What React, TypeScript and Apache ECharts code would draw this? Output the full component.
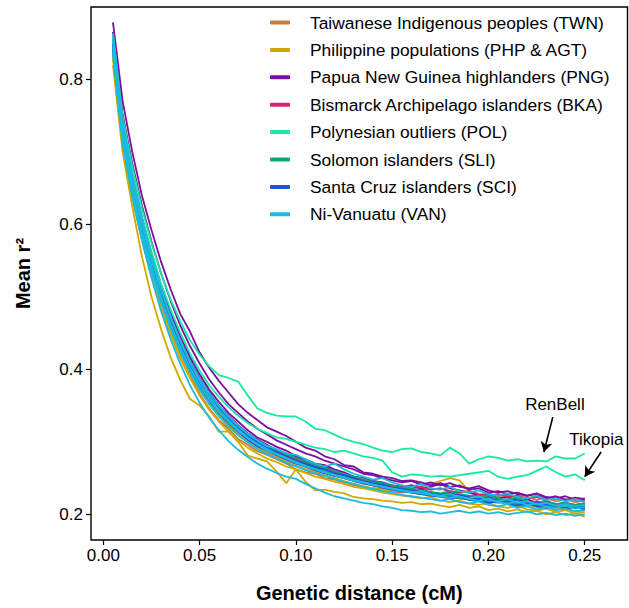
import React, { useEffect, useRef } from "react";
import * as echarts from "echarts";

const distances = [
  0.005, 0.01, 0.015, 0.02, 0.025, 0.03, 0.035, 0.04, 0.045, 0.05,
  0.055, 0.06, 0.065, 0.07, 0.075, 0.08, 0.085, 0.09, 0.095, 0.1,
  0.105, 0.11, 0.115, 0.12, 0.125, 0.13, 0.135, 0.14, 0.145, 0.15,
  0.155, 0.16, 0.165, 0.17, 0.175, 0.18, 0.185, 0.19, 0.195, 0.2,
  0.205, 0.21, 0.215, 0.22, 0.225, 0.23, 0.235, 0.24, 0.245, 0.25,
];
const xTicks = [0, 0.05, 0.1, 0.15, 0.2, 0.25];
const yTicks = [0.2, 0.4, 0.6, 0.8];

const TWN_1 = [0.838,0.716,0.642,0.584,0.534,0.490,0.452,0.420,0.392,0.366,
0.346,0.330,0.318,0.304,0.296,0.287,0.282,0.276,0.270,0.262,
0.258,0.256,0.250,0.248,0.244,0.240,0.238,0.236,0.235,0.232,
0.230,0.232,0.228,0.230,0.226,0.224,0.226,0.222,0.220,0.223,
0.218,0.220,0.216,0.218,0.214,0.216,0.212,0.215,0.211,0.213];
const TWN_2 = [0.845,0.724,0.654,0.596,0.546,0.503,0.466,0.434,0.405,0.382,
0.362,0.345,0.330,0.318,0.306,0.298,0.290,0.284,0.279,0.274,
0.268,0.264,0.262,0.256,0.254,0.250,0.246,0.244,0.242,0.240,
0.238,0.240,0.236,0.234,0.236,0.232,0.230,0.232,0.227,0.229,
0.225,0.227,0.222,0.224,0.220,0.223,0.218,0.221,0.217,0.219];
const TWN_3 = [0.840,0.718,0.646,0.588,0.540,0.496,0.460,0.428,0.400,0.376,
0.356,0.338,0.324,0.312,0.302,0.293,0.286,0.280,0.274,0.270,
0.265,0.260,0.257,0.253,0.250,0.246,0.242,0.240,0.237,0.234,
0.232,0.230,0.228,0.226,0.228,0.224,0.222,0.220,0.222,0.218,
0.216,0.218,0.214,0.212,0.215,0.211,0.213,0.209,0.211,0.208];

const PHP_1 = [0.819,0.700,0.625,0.556,0.500,0.455,0.416,0.385,0.359,0.350,
0.335,0.314,0.314,0.300,0.281,0.277,0.273,0.259,0.243,0.262,
0.245,0.233,0.234,0.231,0.229,0.224,0.222,0.221,0.219,0.218,
0.216,0.217,0.214,0.215,0.212,0.210,0.213,0.209,0.211,0.206,
0.208,0.204,0.207,0.203,0.205,0.200,0.203,0.199,0.201,0.197];
const PHP_2 = [0.832,0.712,0.640,0.580,0.530,0.488,0.450,0.420,0.394,0.371,
0.352,0.336,0.322,0.310,0.300,0.291,0.284,0.278,0.272,0.267,
0.262,0.258,0.254,0.250,0.246,0.242,0.239,0.236,0.234,0.231,
0.236,0.240,0.238,0.242,0.246,0.250,0.247,0.232,0.226,0.224,
0.220,0.216,0.218,0.213,0.210,0.212,0.207,0.209,0.204,0.206];
const PHP_3 = [0.828,0.708,0.636,0.578,0.528,0.484,0.447,0.414,0.388,0.364,
0.344,0.328,0.314,0.302,0.292,0.284,0.277,0.272,0.266,0.262,
0.257,0.252,0.249,0.245,0.242,0.238,0.236,0.233,0.230,0.228,
0.226,0.224,0.222,0.224,0.219,0.217,0.219,0.215,0.213,0.216,
0.211,0.209,0.212,0.207,0.205,0.208,0.203,0.206,0.201,0.203];

const PNG_1 = [0.878,0.770,0.700,0.640,0.592,0.548,0.510,0.476,0.452,0.423,
0.402,0.384,0.368,0.352,0.340,0.330,0.320,0.314,0.308,0.300,
0.292,0.288,0.280,0.276,0.268,0.266,0.258,0.256,0.252,0.250,
0.246,0.247,0.244,0.240,0.243,0.238,0.240,0.234,0.236,0.230,
0.232,0.228,0.230,0.226,0.228,0.222,0.225,0.220,0.223,0.221];
const PNG_2 = [0.865,0.752,0.684,0.626,0.576,0.532,0.494,0.460,0.432,0.408,
0.386,0.368,0.352,0.340,0.328,0.318,0.310,0.302,0.296,0.290,
0.284,0.280,0.274,0.270,0.266,0.262,0.256,0.254,0.250,0.247,
0.244,0.246,0.241,0.244,0.240,0.243,0.238,0.236,0.239,0.233,
0.230,0.232,0.228,0.226,0.229,0.224,0.222,0.225,0.220,0.222];
const PNG_3 = [0.856,0.738,0.668,0.610,0.560,0.516,0.478,0.446,0.417,0.393,
0.372,0.355,0.340,0.328,0.316,0.306,0.300,0.293,0.288,0.280,
0.276,0.270,0.268,0.262,0.258,0.252,0.250,0.246,0.244,0.240,
0.238,0.240,0.236,0.238,0.242,0.236,0.233,0.230,0.226,0.228,
0.222,0.224,0.219,0.221,0.216,0.218,0.214,0.216,0.213,0.215];
const PNG_4 = [0.850,0.730,0.660,0.602,0.553,0.510,0.472,0.440,0.412,0.388,
0.368,0.350,0.336,0.323,0.312,0.303,0.296,0.288,0.284,0.279,
0.273,0.268,0.266,0.260,0.256,0.252,0.248,0.246,0.242,0.238,
0.236,0.233,0.235,0.230,0.228,0.230,0.226,0.224,0.226,0.220,
0.218,0.220,0.215,0.217,0.213,0.215,0.211,0.209,0.212,0.208];

const BKA_1 = [0.850,0.728,0.657,0.600,0.550,0.507,0.470,0.438,0.410,0.386,
0.366,0.348,0.333,0.321,0.310,0.300,0.293,0.287,0.281,0.276,
0.271,0.266,0.262,0.258,0.254,0.250,0.247,0.244,0.241,0.238,
0.240,0.236,0.238,0.234,0.236,0.232,0.230,0.232,0.228,0.226,
0.228,0.224,0.226,0.222,0.224,0.220,0.222,0.219,0.221,0.218];
const BKA_2 = [0.842,0.720,0.648,0.592,0.543,0.500,0.463,0.431,0.403,0.379,
0.359,0.342,0.328,0.316,0.305,0.296,0.289,0.283,0.278,0.272,
0.268,0.263,0.259,0.255,0.251,0.247,0.244,0.241,0.238,0.235,
0.233,0.231,0.233,0.229,0.227,0.229,0.225,0.223,0.225,0.221,
0.219,0.221,0.217,0.215,0.218,0.214,0.212,0.215,0.211,0.213];

const POL_RenBell = [0.862,0.748,0.680,0.622,0.574,0.532,0.496,0.466,0.440,0.420,
0.404,0.392,0.388,0.383,0.364,0.346,0.340,0.336,0.335,0.335,
0.328,0.318,0.316,0.310,0.304,0.300,0.297,0.292,0.288,0.286,
0.290,0.291,0.286,0.284,0.281,0.292,0.284,0.270,0.276,0.280,
0.278,0.274,0.276,0.273,0.274,0.273,0.280,0.277,0.277,0.284];
const POL_Tikopia = [0.858,0.738,0.668,0.610,0.562,0.518,0.482,0.450,0.422,0.398,
0.378,0.362,0.348,0.336,0.326,0.318,0.312,0.306,0.304,0.300,
0.296,0.292,0.290,0.286,0.288,0.284,0.280,0.278,0.274,0.258,
0.252,0.255,0.254,0.252,0.253,0.252,0.254,0.256,0.258,0.260,
0.252,0.249,0.252,0.254,0.260,0.266,0.258,0.252,0.255,0.247];

const SLI_1 = [0.848,0.726,0.655,0.598,0.549,0.506,0.469,0.437,0.409,0.385,
0.365,0.348,0.334,0.322,0.311,0.302,0.295,0.289,0.283,0.278,
0.273,0.268,0.264,0.260,0.256,0.252,0.249,0.245,0.243,0.240,
0.237,0.235,0.233,0.231,0.229,0.232,0.228,0.226,0.224,0.227,
0.222,0.220,0.223,0.218,0.216,0.219,0.214,0.216,0.213,0.215];
const SLI_2 = [0.843,0.720,0.650,0.593,0.544,0.501,0.464,0.432,0.404,0.380,
0.360,0.343,0.329,0.317,0.306,0.297,0.290,0.284,0.279,0.274,
0.269,0.264,0.260,0.256,0.252,0.248,0.245,0.242,0.239,0.236,
0.234,0.232,0.230,0.228,0.226,0.224,0.222,0.221,0.219,0.218,
0.221,0.216,0.214,0.217,0.212,0.214,0.210,0.212,0.209,0.211];

const SCI_1 = [0.846,0.723,0.652,0.595,0.546,0.503,0.466,0.434,0.406,0.382,
0.362,0.345,0.331,0.319,0.308,0.299,0.292,0.286,0.280,0.274,
0.270,0.265,0.262,0.257,0.254,0.250,0.246,0.243,0.241,0.237,
0.235,0.233,0.231,0.229,0.227,0.225,0.227,0.223,0.221,0.224,
0.219,0.217,0.220,0.215,0.217,0.213,0.211,0.214,0.210,0.212];
const SCI_2 = [0.840,0.716,0.645,0.588,0.539,0.497,0.460,0.428,0.400,0.377,
0.357,0.340,0.326,0.314,0.303,0.294,0.288,0.282,0.276,0.270,
0.266,0.261,0.257,0.253,0.250,0.246,0.243,0.240,0.237,0.234,
0.232,0.230,0.228,0.226,0.224,0.222,0.224,0.220,0.218,0.216,
0.218,0.214,0.212,0.215,0.211,0.209,0.212,0.208,0.210,0.207];

const VAN_1 = [0.863,0.742,0.668,0.608,0.556,0.511,0.472,0.438,0.409,0.384,
0.362,0.344,0.330,0.317,0.306,0.297,0.290,0.283,0.278,0.272,
0.267,0.262,0.258,0.254,0.250,0.247,0.244,0.241,0.238,0.235,
0.233,0.230,0.232,0.228,0.226,0.228,0.224,0.222,0.225,0.220,
0.218,0.221,0.216,0.218,0.214,0.216,0.212,0.214,0.211,0.213];
const VAN_2 = [0.835,0.712,0.638,0.578,0.526,0.480,0.441,0.407,0.378,0.354,
0.333,0.316,0.301,0.289,0.279,0.270,0.263,0.257,0.252,0.249,
0.242,0.236,0.230,0.225,0.222,0.219,0.216,0.214,0.211,0.209,
0.206,0.205,0.203,0.204,0.201,0.203,0.205,0.202,0.204,0.201,
0.203,0.200,0.202,0.204,0.200,0.202,0.199,0.201,0.198,0.200];
const VAN_3 = [0.852,0.730,0.658,0.600,0.551,0.508,0.471,0.439,0.411,0.387,
0.367,0.350,0.335,0.322,0.311,0.302,0.294,0.290,0.284,0.282,
0.276,0.270,0.266,0.270,0.262,0.256,0.252,0.248,0.250,0.244,
0.240,0.238,0.242,0.236,0.234,0.238,0.232,0.230,0.233,0.228,
0.226,0.229,0.224,0.222,0.226,0.220,0.222,0.218,0.221,0.217];
const VAN_4 = [0.844,0.721,0.649,0.591,0.542,0.499,0.462,0.430,0.402,0.378,
0.358,0.341,0.327,0.315,0.305,0.296,0.288,0.283,0.277,0.271,
0.266,0.262,0.258,0.254,0.251,0.247,0.244,0.241,0.238,0.236,
0.233,0.231,0.229,0.227,0.225,0.223,0.225,0.221,0.219,0.222,
0.217,0.215,0.218,0.213,0.215,0.211,0.209,0.212,0.208,0.210];
const VAN_5 = [0.838,0.714,0.643,0.585,0.536,0.493,0.456,0.424,0.396,0.372,
0.352,0.335,0.321,0.309,0.299,0.290,0.283,0.277,0.271,0.266,
0.261,0.257,0.253,0.249,0.245,0.242,0.238,0.235,0.232,0.230,
0.227,0.225,0.223,0.221,0.219,0.221,0.217,0.215,0.218,0.213,
0.211,0.214,0.209,0.211,0.207,0.210,0.206,0.208,0.204,0.206];

const populations = [
  { name: "Taiwanese Indigenous peoples (TWN)", color: "#CB7A3E", lines: [TWN_1, TWN_2, TWN_3] },
  { name: "Philippine populations (PHP & AGT)", color: "#D1A800", lines: [PHP_1, PHP_2, PHP_3] },
  { name: "Papua New Guinea highlanders (PNG)", color: "#7B10A0", lines: [PNG_1, PNG_2, PNG_3, PNG_4] },
  { name: "Bismarck Archipelago islanders (BKA)", color: "#E0206E", lines: [BKA_1, BKA_2] },
  { name: "Polynesian outliers (POL)", color: "#17E8A6", lines: [POL_RenBell, POL_Tikopia] },
  { name: "Solomon islanders (SLI)", color: "#10A577", lines: [SLI_1, SLI_2] },
  { name: "Santa Cruz islanders (SCI)", color: "#1B55DF", lines: [SCI_1, SCI_2] },
  { name: "Ni-Vanuatu (VAN)", color: "#1ABBDF", lines: [VAN_1, VAN_2, VAN_3, VAN_4, VAN_5] },
];

// annotation anchors in data coordinates
const annotations = [
  { label: "RenBell", text: [0.2345, 0.351], from: [0.2334, 0.334], to: [0.2288, 0.286] },
  { label: "Tikopia", text: [0.256, 0.303], from: [0.2585, 0.286], to: [0.2500, 0.252] },
];

const FONT = "'Liberation Sans', Arial, Helvetica, sans-serif";

export default function App() {
  const ref = useRef<HTMLDivElement>(null);
  useEffect(() => {
    const chart = echarts.init(ref.current!, null, { renderer: "svg" });
    const series: any[] = [];
    populations.forEach((p) => {
      p.lines.forEach((vals) => {
        series.push({
          type: "line",
          name: p.name,
          data: vals.map((v, j) => [distances[j], v]),
          showSymbol: false,
          symbol: "none",
          color: p.color,
          lineStyle: { color: p.color, width: 1.8 },
          itemStyle: { color: p.color },
          silent: true,
        });
      });
    });
    series.push({
      type: "line",
      name: "__annotations",
      data: [],
      silent: true,
      markLine: {
        silent: true,
        symbol: ["none", "arrow"],
        symbolSize: [9, 10],
        lineStyle: { color: "#000", width: 1.6, type: "solid" },
        label: { show: false },
        data: annotations.map((a) => [{ coord: a.from }, { coord: a.to }]),
      },
      markPoint: {
        silent: true,
        symbol: "circle",
        symbolSize: 1,
        itemStyle: { color: "rgba(0,0,0,0)" },
        label: {
          show: true,
          position: "inside",
          color: "#000",
          fontSize: 17,
          fontFamily: FONT,
          formatter: (p: any) => p.name,
        },
        data: annotations.map((a) => ({ name: a.label, coord: a.text })),
      },
    });

    chart.setOption({
      animation: false,
      backgroundColor: "#fff",
      grid: {
        left: 91,
        top: 7,
        right: 1.5,
        bottom: 66.3,
        show: true,
        borderColor: "#000",
        borderWidth: 1.4,
        backgroundColor: "transparent",
      },
      legend: {
        data: populations.map((p) => p.name),
        orient: "vertical",
        left: 265,
        top: 8.5,
        icon: "roundRect",
        itemWidth: 20,
        itemHeight: 4,
        itemGap: 9.4,
        selectedMode: false,
        textStyle: {
          fontSize: 17.4,
          color: "#000",
          fontFamily: FONT,
          lineHeight: 18,
          padding: [0, 0, 0, 15],
        },
      },
      xAxis: {
        type: "value",
        min: -0.0064,
        max: 0.2722,
        name: "Genetic distance (cM)",
        nameLocation: "middle",
        nameGap: 43,
        nameTextStyle: { fontSize: 20, fontWeight: "bold", color: "#000", fontFamily: FONT },
        axisLine: { show: false, onZero: false },
        axisTick: { show: true, length: 5, lineStyle: { color: "#000", width: 1.2 }, customValues: xTicks },
        axisLabel: {
          customValues: xTicks,
          formatter: (v: number) => v.toFixed(2),
          fontSize: 17,
          color: "#000",
          fontFamily: FONT,
          margin: 7,
        },
        splitLine: { show: false },
      },
      yAxis: {
        type: "value",
        min: 0.1647,
        max: 0.8993,
        name: "Mean r²",
        nameLocation: "middle",
        nameGap: 58,
        nameRotate: 90,
        nameTextStyle: { fontSize: 20, fontWeight: "bold", color: "#000", fontFamily: FONT },
        axisLine: { show: false, onZero: false },
        axisTick: { show: true, length: 5, lineStyle: { color: "#000", width: 1.2 }, customValues: yTicks },
        axisLabel: {
          customValues: yTicks,
          formatter: (v: number) => v.toFixed(1),
          fontSize: 17,
          color: "#000",
          fontFamily: FONT,
          margin: 8,
        },
        splitLine: { show: false },
      },
      series,
    });
    return () => chart.dispose();
  }, []);
  return (
    <div
      ref={ref}
      style={{ position: "fixed", left: 0, top: 0, width: 629, height: 608 }}
    />
  );
}
